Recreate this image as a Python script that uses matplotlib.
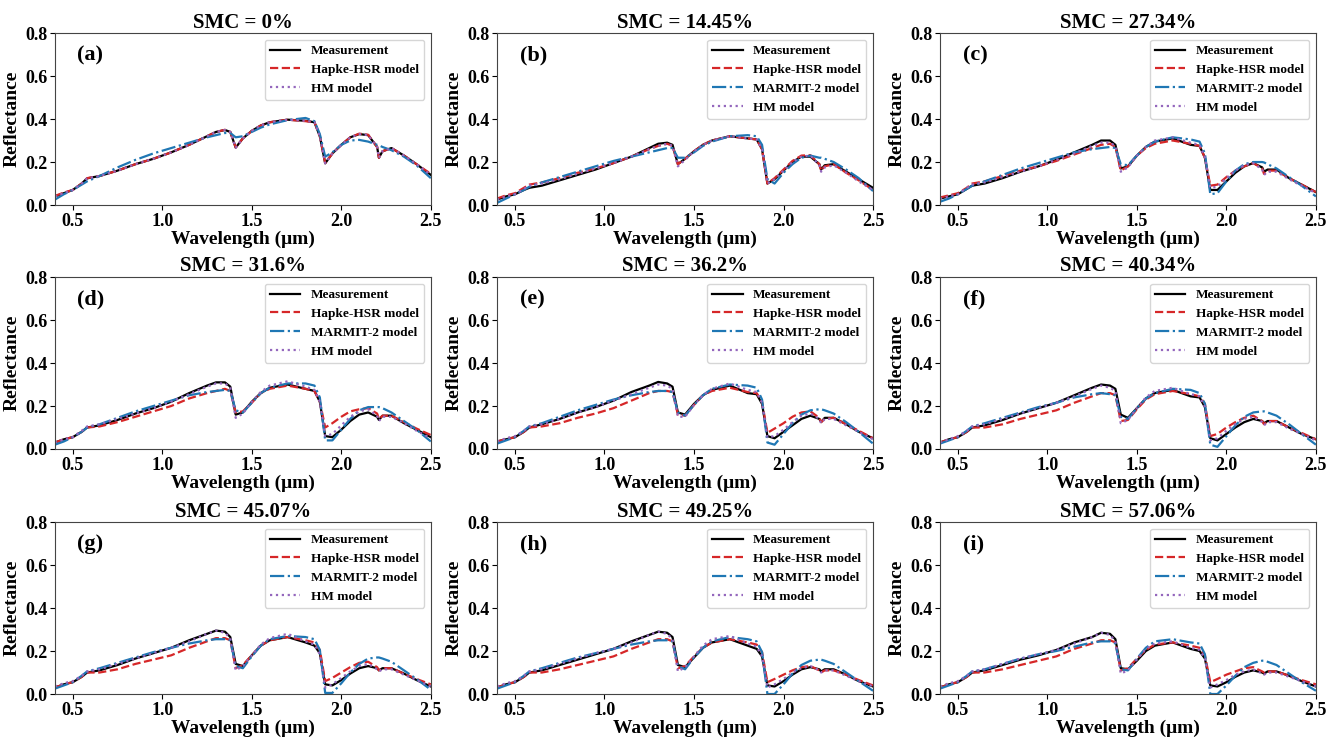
import matplotlib
matplotlib.use('Agg')
import matplotlib.pyplot as plt

plt.rcParams['font.family'] = ['Liberation Serif', 'DejaVu Serif']
plt.rcParams['font.weight'] = 'bold'

wl = [0.40, 0.45, 0.50, 0.55, 0.58, 0.65, 0.75, 0.85, 0.95, 1.05,
      1.15, 1.25, 1.30, 1.35, 1.38, 1.41, 1.45, 1.50, 1.55, 1.60,
      1.70, 1.80, 1.85, 1.88, 1.91, 1.95, 2.00, 2.05, 2.10, 2.15,
      2.20, 2.21, 2.23, 2.28, 2.35, 2.42, 2.50]

smc = ['0%', '14.45%', '27.34%', '31.6%', '36.2%', '40.34%', '45.07%', '49.25%', '57.06%']
panel_tags = ['(a)', '(b)', '(c)', '(d)', '(e)', '(f)', '(g)', '(h)', '(i)']

# measured reflectance, one list per panel
meas = [
    [0.04, 0.055, 0.07, 0.10, 0.124, 0.135, 0.16, 0.19, 0.215, 0.245, 0.28, 0.32, 0.34, 0.349, 0.34, 0.267, 0.31, 0.345, 0.37, 0.385, 0.397, 0.392, 0.385, 0.32, 0.194, 0.24, 0.28, 0.315, 0.33, 0.325, 0.27, 0.22, 0.25, 0.265, 0.23, 0.19, 0.14],
    [0.025, 0.04, 0.05, 0.07, 0.08, 0.09, 0.115, 0.14, 0.165, 0.195, 0.225, 0.265, 0.285, 0.29, 0.28, 0.19, 0.215, 0.25, 0.28, 0.30, 0.32, 0.31, 0.305, 0.26, 0.10, 0.12, 0.16, 0.20, 0.225, 0.225, 0.19, 0.165, 0.185, 0.19, 0.155, 0.12, 0.08],
    [0.03, 0.04, 0.05, 0.075, 0.09, 0.10, 0.125, 0.155, 0.18, 0.21, 0.245, 0.28, 0.30, 0.30, 0.28, 0.17, 0.18, 0.23, 0.27, 0.295, 0.31, 0.28, 0.275, 0.22, 0.07, 0.07, 0.11, 0.15, 0.18, 0.195, 0.175, 0.155, 0.165, 0.165, 0.125, 0.095, 0.06],
    [0.03, 0.045, 0.055, 0.08, 0.10, 0.11, 0.135, 0.165, 0.19, 0.22, 0.26, 0.295, 0.31, 0.31, 0.29, 0.16, 0.17, 0.22, 0.26, 0.285, 0.30, 0.28, 0.27, 0.22, 0.06, 0.055, 0.09, 0.13, 0.16, 0.17, 0.15, 0.135, 0.155, 0.155, 0.12, 0.09, 0.055],
    [0.035, 0.045, 0.055, 0.08, 0.10, 0.115, 0.14, 0.17, 0.195, 0.225, 0.265, 0.295, 0.312, 0.305, 0.29, 0.17, 0.16, 0.21, 0.25, 0.275, 0.295, 0.26, 0.255, 0.21, 0.06, 0.05, 0.08, 0.11, 0.14, 0.155, 0.14, 0.125, 0.145, 0.145, 0.115, 0.08, 0.05],
    [0.03, 0.045, 0.055, 0.08, 0.10, 0.11, 0.135, 0.165, 0.19, 0.215, 0.25, 0.285, 0.30, 0.295, 0.28, 0.16, 0.145, 0.19, 0.235, 0.26, 0.275, 0.245, 0.24, 0.195, 0.05, 0.04, 0.07, 0.10, 0.125, 0.14, 0.13, 0.12, 0.13, 0.13, 0.10, 0.07, 0.045],
    [0.03, 0.045, 0.055, 0.08, 0.10, 0.11, 0.135, 0.165, 0.19, 0.215, 0.25, 0.28, 0.295, 0.29, 0.265, 0.14, 0.13, 0.18, 0.225, 0.25, 0.265, 0.24, 0.225, 0.19, 0.045, 0.04, 0.065, 0.095, 0.12, 0.13, 0.12, 0.11, 0.12, 0.12, 0.095, 0.065, 0.035],
    [0.03, 0.045, 0.055, 0.08, 0.10, 0.11, 0.135, 0.16, 0.185, 0.21, 0.245, 0.275, 0.29, 0.285, 0.265, 0.135, 0.125, 0.17, 0.215, 0.24, 0.255, 0.225, 0.21, 0.175, 0.04, 0.035, 0.06, 0.09, 0.115, 0.125, 0.115, 0.105, 0.115, 0.115, 0.09, 0.06, 0.035],
    [0.03, 0.045, 0.055, 0.08, 0.10, 0.11, 0.135, 0.16, 0.18, 0.205, 0.24, 0.265, 0.285, 0.28, 0.255, 0.12, 0.115, 0.155, 0.20, 0.225, 0.24, 0.21, 0.20, 0.165, 0.04, 0.035, 0.055, 0.08, 0.10, 0.11, 0.10, 0.095, 0.105, 0.105, 0.085, 0.06, 0.035],
]

hapke = [
    [0.042, 0.058, 0.07, 0.10, 0.125, 0.135, 0.16, 0.19, 0.215, 0.245, 0.28, 0.32, 0.34, 0.35, 0.34, 0.268, 0.31, 0.345, 0.37, 0.385, 0.397, 0.39, 0.385, 0.32, 0.195, 0.24, 0.28, 0.315, 0.332, 0.327, 0.27, 0.22, 0.25, 0.265, 0.23, 0.19, 0.145],
    [0.03, 0.045, 0.055, 0.08, 0.095, 0.105, 0.125, 0.15, 0.17, 0.195, 0.225, 0.26, 0.275, 0.285, 0.275, 0.19, 0.215, 0.25, 0.28, 0.30, 0.32, 0.31, 0.305, 0.26, 0.10, 0.125, 0.165, 0.205, 0.23, 0.232, 0.19, 0.16, 0.18, 0.19, 0.15, 0.115, 0.07],
    [0.035, 0.045, 0.055, 0.08, 0.10, 0.11, 0.135, 0.16, 0.18, 0.205, 0.235, 0.265, 0.28, 0.285, 0.27, 0.16, 0.18, 0.23, 0.265, 0.285, 0.30, 0.285, 0.275, 0.22, 0.09, 0.095, 0.13, 0.16, 0.18, 0.195, 0.17, 0.145, 0.16, 0.16, 0.125, 0.095, 0.06],
    [0.03, 0.045, 0.055, 0.08, 0.10, 0.105, 0.125, 0.15, 0.175, 0.20, 0.235, 0.26, 0.27, 0.28, 0.27, 0.17, 0.175, 0.215, 0.26, 0.28, 0.295, 0.28, 0.27, 0.22, 0.10, 0.12, 0.15, 0.175, 0.185, 0.19, 0.165, 0.14, 0.155, 0.155, 0.125, 0.095, 0.065],
    [0.035, 0.045, 0.055, 0.08, 0.10, 0.105, 0.12, 0.145, 0.165, 0.19, 0.225, 0.26, 0.27, 0.27, 0.265, 0.16, 0.155, 0.205, 0.25, 0.27, 0.285, 0.265, 0.26, 0.22, 0.075, 0.095, 0.12, 0.15, 0.17, 0.175, 0.145, 0.125, 0.14, 0.145, 0.115, 0.085, 0.05],
    [0.03, 0.045, 0.055, 0.08, 0.10, 0.10, 0.115, 0.14, 0.16, 0.18, 0.215, 0.245, 0.26, 0.26, 0.25, 0.13, 0.135, 0.185, 0.23, 0.255, 0.27, 0.255, 0.245, 0.21, 0.06, 0.07, 0.10, 0.125, 0.145, 0.155, 0.13, 0.115, 0.13, 0.13, 0.10, 0.075, 0.045],
    [0.03, 0.045, 0.055, 0.08, 0.10, 0.10, 0.115, 0.14, 0.16, 0.18, 0.215, 0.245, 0.26, 0.26, 0.25, 0.12, 0.135, 0.18, 0.225, 0.25, 0.265, 0.25, 0.24, 0.205, 0.06, 0.075, 0.10, 0.125, 0.145, 0.15, 0.125, 0.11, 0.12, 0.12, 0.095, 0.07, 0.045],
    [0.03, 0.045, 0.055, 0.08, 0.10, 0.10, 0.115, 0.135, 0.155, 0.175, 0.21, 0.24, 0.255, 0.255, 0.245, 0.12, 0.13, 0.175, 0.215, 0.24, 0.255, 0.24, 0.23, 0.195, 0.055, 0.07, 0.09, 0.11, 0.125, 0.13, 0.11, 0.10, 0.11, 0.11, 0.09, 0.065, 0.04],
    [0.03, 0.045, 0.055, 0.08, 0.10, 0.10, 0.115, 0.135, 0.155, 0.175, 0.21, 0.235, 0.25, 0.25, 0.24, 0.11, 0.12, 0.165, 0.205, 0.23, 0.24, 0.225, 0.215, 0.18, 0.055, 0.07, 0.09, 0.105, 0.12, 0.125, 0.105, 0.10, 0.105, 0.105, 0.085, 0.065, 0.045],
]

marmit = [
    [0.025, 0.05, 0.07, 0.095, 0.11, 0.135, 0.175, 0.21, 0.24, 0.265, 0.29, 0.315, 0.325, 0.335, 0.335, 0.315, 0.32, 0.34, 0.36, 0.375, 0.395, 0.405, 0.39, 0.33, 0.225, 0.245, 0.28, 0.30, 0.303, 0.295, 0.28, 0.278, 0.27, 0.255, 0.225, 0.185, 0.125],
    [0.01, 0.03, 0.05, 0.07, 0.085, 0.105, 0.13, 0.155, 0.18, 0.205, 0.225, 0.245, 0.255, 0.265, 0.265, 0.22, 0.22, 0.245, 0.275, 0.295, 0.32, 0.325, 0.32, 0.28, 0.12, 0.10, 0.15, 0.19, 0.22, 0.23, 0.22, 0.22, 0.215, 0.20, 0.165, 0.125, 0.065],
    [0.015, 0.03, 0.05, 0.075, 0.09, 0.11, 0.14, 0.17, 0.195, 0.22, 0.245, 0.26, 0.265, 0.27, 0.265, 0.19, 0.185, 0.23, 0.27, 0.295, 0.315, 0.305, 0.295, 0.24, 0.05, 0.055, 0.11, 0.16, 0.19, 0.20, 0.20, 0.198, 0.19, 0.17, 0.13, 0.09, 0.04],
    [0.02, 0.035, 0.055, 0.08, 0.10, 0.115, 0.145, 0.175, 0.20, 0.225, 0.25, 0.265, 0.27, 0.275, 0.27, 0.18, 0.17, 0.215, 0.26, 0.285, 0.305, 0.305, 0.295, 0.24, 0.04, 0.04, 0.09, 0.14, 0.18, 0.195, 0.195, 0.195, 0.19, 0.17, 0.13, 0.09, 0.035],
    [0.025, 0.04, 0.055, 0.085, 0.105, 0.12, 0.15, 0.18, 0.205, 0.23, 0.25, 0.265, 0.27, 0.27, 0.265, 0.17, 0.155, 0.205, 0.25, 0.28, 0.30, 0.295, 0.285, 0.23, 0.03, 0.02, 0.07, 0.12, 0.16, 0.18, 0.185, 0.185, 0.18, 0.165, 0.125, 0.08, 0.025],
    [0.025, 0.04, 0.055, 0.085, 0.105, 0.12, 0.145, 0.17, 0.195, 0.215, 0.24, 0.255, 0.26, 0.255, 0.25, 0.15, 0.14, 0.19, 0.235, 0.26, 0.28, 0.275, 0.26, 0.21, 0.02, 0.01, 0.06, 0.11, 0.15, 0.17, 0.175, 0.175, 0.17, 0.155, 0.115, 0.07, 0.02],
    [0.025, 0.04, 0.055, 0.085, 0.105, 0.12, 0.145, 0.17, 0.195, 0.215, 0.235, 0.25, 0.255, 0.255, 0.25, 0.13, 0.12, 0.175, 0.225, 0.255, 0.27, 0.265, 0.255, 0.205, 0.005, 0.005, 0.05, 0.10, 0.14, 0.165, 0.17, 0.17, 0.165, 0.15, 0.11, 0.07, 0.02],
    [0.025, 0.04, 0.055, 0.085, 0.105, 0.12, 0.145, 0.17, 0.19, 0.21, 0.23, 0.245, 0.25, 0.25, 0.245, 0.13, 0.115, 0.17, 0.215, 0.245, 0.265, 0.255, 0.245, 0.195, 0.0, 0.0, 0.045, 0.095, 0.135, 0.155, 0.16, 0.16, 0.155, 0.14, 0.10, 0.06, 0.015],
    [0.025, 0.04, 0.055, 0.085, 0.105, 0.115, 0.14, 0.165, 0.185, 0.20, 0.22, 0.24, 0.245, 0.245, 0.235, 0.115, 0.11, 0.165, 0.215, 0.245, 0.255, 0.24, 0.235, 0.185, 0.0, 0.0, 0.04, 0.085, 0.125, 0.145, 0.155, 0.155, 0.15, 0.135, 0.095, 0.055, 0.015],
]

hm = [
    [0.04, 0.055, 0.07, 0.10, 0.124, 0.135, 0.16, 0.19, 0.215, 0.245, 0.28, 0.32, 0.34, 0.349, 0.34, 0.267, 0.31, 0.345, 0.37, 0.385, 0.397, 0.392, 0.385, 0.32, 0.194, 0.24, 0.28, 0.315, 0.33, 0.325, 0.27, 0.22, 0.25, 0.265, 0.23, 0.19, 0.14],
    [0.025, 0.04, 0.05, 0.075, 0.09, 0.10, 0.12, 0.145, 0.17, 0.195, 0.225, 0.26, 0.275, 0.285, 0.275, 0.18, 0.21, 0.25, 0.28, 0.30, 0.32, 0.31, 0.305, 0.26, 0.10, 0.12, 0.16, 0.20, 0.225, 0.23, 0.185, 0.155, 0.175, 0.185, 0.15, 0.11, 0.07],
    [0.03, 0.04, 0.05, 0.08, 0.095, 0.105, 0.13, 0.155, 0.18, 0.21, 0.24, 0.275, 0.29, 0.29, 0.275, 0.155, 0.175, 0.23, 0.27, 0.30, 0.315, 0.29, 0.28, 0.22, 0.08, 0.085, 0.125, 0.16, 0.185, 0.195, 0.165, 0.14, 0.155, 0.155, 0.12, 0.09, 0.055],
    [0.03, 0.045, 0.055, 0.085, 0.105, 0.115, 0.14, 0.165, 0.19, 0.22, 0.255, 0.29, 0.305, 0.305, 0.285, 0.145, 0.165, 0.22, 0.265, 0.295, 0.315, 0.29, 0.275, 0.22, 0.06, 0.07, 0.11, 0.15, 0.175, 0.185, 0.155, 0.13, 0.15, 0.15, 0.12, 0.085, 0.05],
    [0.035, 0.05, 0.06, 0.085, 0.105, 0.115, 0.14, 0.17, 0.195, 0.225, 0.255, 0.285, 0.30, 0.295, 0.28, 0.15, 0.15, 0.205, 0.25, 0.28, 0.305, 0.275, 0.265, 0.215, 0.055, 0.06, 0.09, 0.125, 0.155, 0.165, 0.14, 0.12, 0.14, 0.14, 0.11, 0.08, 0.045],
    [0.03, 0.045, 0.06, 0.085, 0.105, 0.115, 0.14, 0.165, 0.19, 0.215, 0.245, 0.28, 0.295, 0.285, 0.27, 0.12, 0.135, 0.19, 0.24, 0.27, 0.285, 0.255, 0.245, 0.195, 0.04, 0.05, 0.085, 0.115, 0.14, 0.15, 0.125, 0.11, 0.125, 0.125, 0.095, 0.07, 0.04],
    [0.035, 0.05, 0.06, 0.085, 0.105, 0.115, 0.14, 0.165, 0.19, 0.215, 0.245, 0.28, 0.295, 0.285, 0.26, 0.11, 0.13, 0.18, 0.23, 0.26, 0.28, 0.245, 0.23, 0.185, 0.03, 0.045, 0.075, 0.105, 0.13, 0.14, 0.115, 0.105, 0.115, 0.115, 0.09, 0.065, 0.035],
    [0.035, 0.05, 0.06, 0.085, 0.105, 0.115, 0.14, 0.165, 0.19, 0.21, 0.24, 0.275, 0.29, 0.28, 0.255, 0.105, 0.125, 0.175, 0.225, 0.255, 0.27, 0.235, 0.22, 0.175, 0.03, 0.045, 0.07, 0.10, 0.12, 0.13, 0.11, 0.10, 0.11, 0.11, 0.085, 0.06, 0.035],
    [0.035, 0.05, 0.06, 0.085, 0.105, 0.115, 0.14, 0.165, 0.185, 0.205, 0.235, 0.265, 0.285, 0.275, 0.245, 0.095, 0.11, 0.16, 0.21, 0.235, 0.245, 0.215, 0.205, 0.165, 0.03, 0.045, 0.065, 0.09, 0.105, 0.115, 0.095, 0.09, 0.10, 0.10, 0.08, 0.06, 0.035],
]

fig = plt.figure(figsize=(13.38, 7.38), dpi=100)

col_left = [0.041, 0.3715, 0.7025]
row_bottom = [0.7222, 0.3916, 0.0596]
w, h = 0.281, 0.233

for k in range(9):
    r, c = divmod(k, 3)
    ax = fig.add_axes([col_left[c], row_bottom[r], w, h])

    ax.plot(wl, meas[k], color='black', lw=1.6, label='Measurement')
    ax.plot(wl, hapke[k], color='#d62728', lw=1.6, ls='--', label='Hapke-HSR model')
    ax.plot(wl, marmit[k], color='#1f77b4', lw=1.6, ls='-.',
            label='_nolegend_' if k == 0 else 'MARMIT-2 model')
    ax.plot(wl, hm[k], color='#9467bd', lw=1.6, ls=':', label='HM model')

    ax.set_xlim(0.4, 2.5)
    ax.set_ylim(0, 0.8)
    ax.set_xticks([0.5, 1.0, 1.5, 2.0, 2.5])
    ax.set_yticks([0.0, 0.2, 0.4, 0.6, 0.8])
    ax.tick_params(labelsize=13, pad=2)
    for lab in ax.get_xticklabels() + ax.get_yticklabels():
        lab.set_fontweight('bold')
    for sp in ax.spines.values():
        sp.set_color('#444444')

    ax.set_title('SMC = ' + smc[k], fontsize=15, fontweight='bold', pad=4)
    ax.set_xlabel('Wavelength (μm)', fontsize=14, fontweight='bold', labelpad=1)
    ax.set_ylabel('Reflectance', fontsize=14, fontweight='bold', labelpad=3)
    ax.text(0.06, 0.87, panel_tags[k], transform=ax.transAxes, fontsize=16,
            fontweight='bold', va='center')

    ax.legend(loc='upper right', prop={'weight': 'bold', 'size': 9.5},
              handlelength=2.3, borderaxespad=0.5)

fig.savefig('out.png', dpi=100)
